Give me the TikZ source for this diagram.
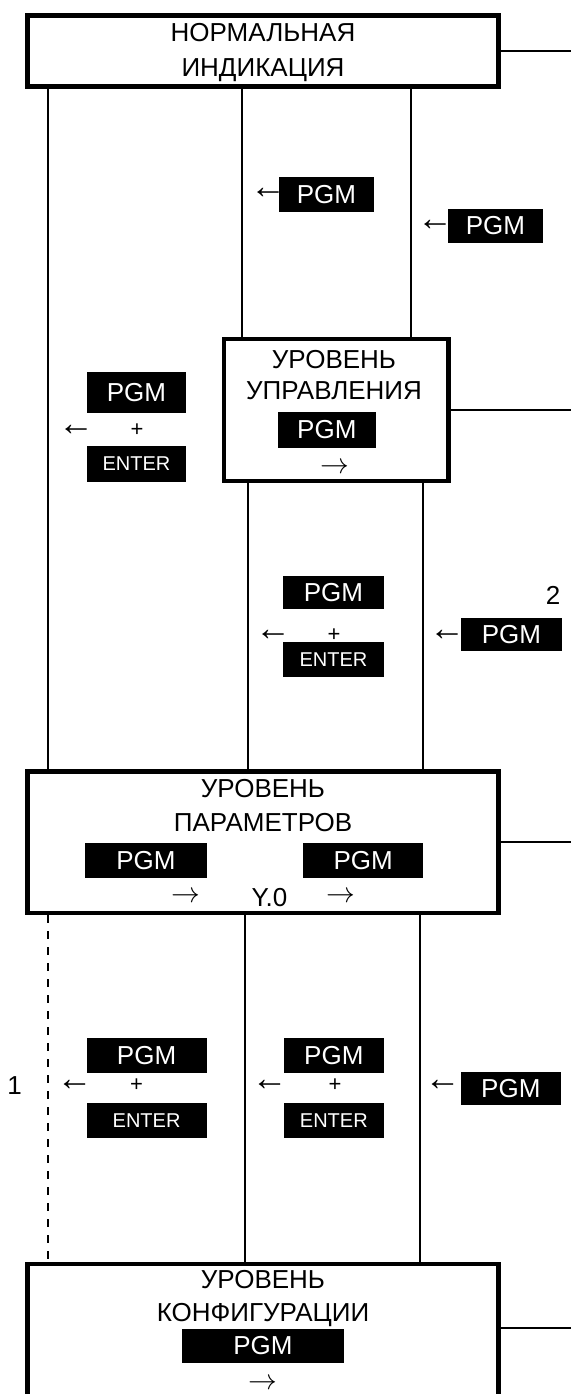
\documentclass[tikz,border=0pt]{standalone}
\usepackage{fontspec}
\setmainfont{Liberation Sans}

\begin{document}
\begin{tikzpicture}[x=1pt,y=-1pt,
  modebox/.style={draw,line width=2.4pt,inner sep=0},
  key/.style={fill=black,text=white,inner sep=0,font=\fontsize{13}{13}\selectfont},
  smallkey/.style={key,font=\fontsize{10}{10}\selectfont},
  lbl/.style={inner sep=0,font=\fontsize{13}{13}\selectfont,text height=9.3pt,text depth=0pt},
  arr/.style={inner sep=0,font=\fontsize{14}{14}\selectfont},
  larr/.style={inner sep=0,font=\fontsize{18}{18}\selectfont},
  plus/.style={inner sep=0,font=\fontsize{11}{11}\selectfont},
  link/.style={line width=1pt}]

\useasboundingbox (0,0) rectangle (285.5,697);
\clip (0,0) rectangle (285.5,697);

% mode boxes
\node[modebox,minimum width=235.4pt,minimum height=35.5pt] (norm) at (131.55,25.5) {};
\node[modebox,minimum width=112.25pt,minimum height=71pt] (ctrl) at (168.1,205) {};
\node[modebox,minimum width=235.4pt,minimum height=70.75pt] (param) at (131.55,421.1) {};
\node[modebox,minimum width=235.4pt,minimum height=88pt] (konf) at (131.55,676) {};

% box titles
\node[lbl] (normA) at (131.5,16) {НОРМАЛЬНАЯ};
\node[lbl] (normB) at (131.5,33.5) {ИНДИКАЦИЯ};
\node[lbl] (ctrlA) at (167,179.5) {УРОВЕНЬ};
\node[lbl] (ctrlB) at (167,195) {УПРАВЛЕНИЯ};
\node[lbl] (paramA) at (131.5,394) {УРОВЕНЬ};
\node[lbl] (paramB) at (131.5,410.85) {ПАРАМЕТРОВ};
\node[lbl] (konfA) at (131.5,639.5) {УРОВЕНЬ};
\node[lbl] (konfB) at (131.5,656) {КОНФИГУРАЦИИ};

% keys
\foreach \n/\x/\y/\w/\h in {kA/163.25/97.25/47.5/17.5, kB/247.75/113/47.5/17,
  kC/163.4/215/49.25/18, kD/68.25/196.25/49.5/20.5, kE/166.75/296.25/50.5/16.5,
  kF/255.75/317.25/50.5/16.5, kG/73/430.1/61/17.5, kH/181.6/430.1/60.25/17.5,
  kI/73.3/527.75/59.9/17.5, kJ/166.9/527.75/49.75/17.5, kK/255.4/544.2/50/16.65,
  kL/131.5/673/81/17}
  \node[key,minimum width=\w pt,minimum height=\h pt] (\n) at (\x,\y) {PGM};
\foreach \n/\x/\y/\w/\h in {eA/68.25/232/49.5/18, eB/166.75/329.75/50.5/17.5,
  eC/73.3/560.4/59.9/17.5, eD/166.9/560.4/49.75/17.5}
  \node[smallkey,minimum width=\w pt,minimum height=\h pt] (\n) at (\x,\y) {ENTER};

% arrows and signs
\foreach \n/\x/\y in {lA/134/96.5, lB/217.5/112.5, lC/38/215, lD/136.5/317.5,
  lE/223.5/317.5, lF/37.3/542.5, lG/134.75/542.5, lH/221.25/542.5}
  \node[larr] (\n) at (\x,\y) {←};
\foreach \n/\x/\y in {rA/167.5/234, rB/92.85/448.65, rC/170.25/448.65, rD/131.5/692}
  \node[arr] (\n) at (\x,\y) {$\rightarrow$};
\foreach \n/\x/\y in {pA/68.5/215, pB/167/317.5, pC/68.3/542.5, pD/167.5/542.5}
  \node[plus] (\n) at (\x,\y) {+};
\node[lbl] (yzero) at (134.75,448.65) {Y.0};
\node[lbl] (one) at (7.3,542.5) {1};
\node[lbl] (two) at (276.5,297.5) {2};

% columns
\coordinate (c1) at (24,0);
\coordinate (c2) at (120.9,0);
\coordinate (c3) at (205.4,0);
\coordinate (c4) at (124,0);
\coordinate (c5) at (211.5,0);
\coordinate (c6) at (122.35,0);
\coordinate (c7) at (210,0);
\coordinate (edge) at (285.5,0);
\coordinate (kstub) at (285.5,664.15);

% links
\draw[link] (norm.south -| c1) -- (param.north -| c1);
\draw[link] (norm.south -| c2) -- (ctrl.north -| c2);
\draw[link] (norm.south -| c3) -- (ctrl.north -| c3);
\draw[link] (ctrl.south -| c4) -- (param.north -| c4);
\draw[link] (ctrl.south -| c5) -- (param.north -| c5);
\draw[link,dash pattern=on 4pt off 4pt] (param.south -| c1) -- (konf.north -| c1);
\draw[link] (param.south -| c6) -- (konf.north -| c6);
\draw[link] (param.south -| c7) -- (konf.north -| c7);
\foreach \b in {norm,ctrl,param}
  \draw[link] (\b.east) -- (\b.east -| edge);
\draw[link] (kstub -| konf.east) -- (kstub);
\end{tikzpicture}
\end{document}
